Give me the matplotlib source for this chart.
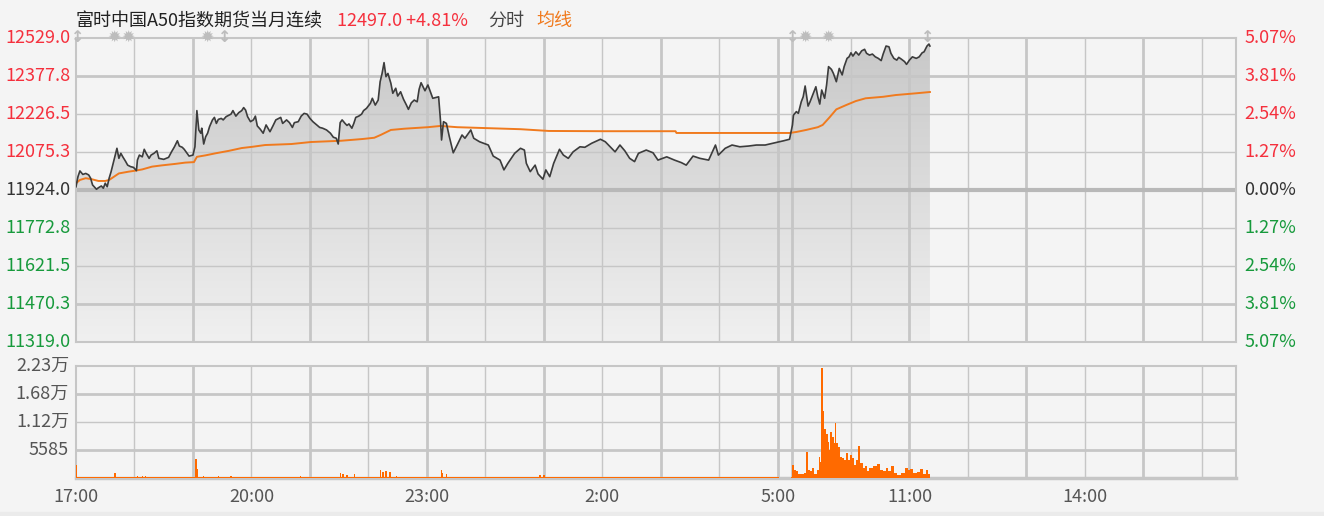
import numpy as np
import matplotlib.pyplot as plt
from matplotlib.colors import LinearSegmentedColormap
from matplotlib.patches import Rectangle

plt.rcParams['font.family'] = ['Noto Sans CJK SC', 'DejaVu Sans']

########################################
# DATA  (x = session minute: 0 = 17:00, 735 = 05:15 | 09:00, 1190 = 16:35)

title = '富时中国A50指数期货当月连续'
last_price = 12497.0
chg_pct = 4.81
prev_close = 11924.0

price_min = [0, 2, 4, 7, 10, 13, 15, 17, 21, 23,
             26, 28, 30, 32, 34, 36, 39, 42, 44, 46,
             48, 51, 53, 56, 59, 62, 63, 65, 68, 70,
             72, 75, 77, 80, 83, 85, 90, 95, 98, 101,
             104, 106, 109, 111, 114, 116, 120, 122, 124, 126,
             128, 129, 131, 133, 135, 137, 140, 142, 144, 146,
             149, 151, 154, 157, 159, 161, 164, 167, 170, 172,
             174, 176, 179, 182, 184, 186, 189, 192, 195, 199,
             202, 205, 210, 212, 216, 219, 222, 224, 228, 231,
             234, 237, 240, 243, 247, 250, 253, 257, 261, 264,
             267, 269, 271, 273, 276, 278, 280, 283, 285, 287,
             290, 293, 295, 298, 302, 304, 307, 310, 312, 314,
             316, 318, 320, 323, 325, 328, 330, 333, 336, 339,
             341, 344, 347, 350, 352, 354, 356, 358, 361, 366,
             372, 374, 375, 377, 380, 383, 387, 391, 396, 399,
             405, 408, 414, 423, 428, 435, 439, 443, 450, 456,
             460, 462, 466, 471, 474, 479, 482, 486, 490, 496,
             500, 505, 510, 517, 522, 529, 538, 543, 548, 553,
             558, 563, 568, 573, 577, 585, 592, 597, 606, 614,
             621, 626, 633, 640, 649, 656, 659, 666, 673, 681,
             690, 698, 707, 715, 726, 732, 735, 736, 739, 741,
             744, 746, 748, 751, 753, 755, 757, 759, 761, 763,
             765, 768, 770, 772, 775, 777, 780, 783, 786, 788,
             791, 793, 795, 797, 800, 803, 806, 809, 811, 814,
             817, 820, 823, 826, 828, 831, 834, 836, 839, 842,
             844, 847, 850, 852, 855, 858, 862, 865, 868, 870,
             873, 875, 876]
price = [11937, 11977, 12000, 11986, 11990, 11984, 11971, 11944, 11927, 11933,
         11940, 11931, 11951, 11937, 11971, 11997, 12043, 12090, 12050, 12070,
         12056, 12037, 12023, 12017, 12014, 12001, 12043, 12063, 12056, 12086,
         12070, 12050, 12063, 12070, 12080, 12050, 12046, 12054, 12076, 12096,
         12120, 12099, 12094, 12086, 12070, 12059, 12063, 12096, 12240, 12163,
         12150, 12170, 12107, 12136, 12150, 12176, 12203, 12213, 12189, 12205,
         12209, 12203, 12216, 12222, 12226, 12240, 12218, 12232, 12240, 12252,
         12242, 12216, 12196, 12203, 12218, 12179, 12166, 12150, 12183, 12156,
         12179, 12203, 12213, 12189, 12203, 12192, 12173, 12192, 12196, 12218,
         12229, 12226, 12209, 12196, 12183, 12173, 12170, 12163, 12150, 12134,
         12130, 12107, 12192, 12203, 12189, 12181, 12187, 12170, 12189, 12213,
         12218, 12226, 12240, 12249, 12269, 12289, 12262, 12282, 12355, 12388,
         12431, 12375, 12388, 12349, 12309, 12329, 12298, 12315, 12285, 12262,
         12245, 12271, 12282, 12275, 12325, 12351, 12335, 12319, 12342, 12289,
         12295, 12196, 12123, 12196, 12189, 12136, 12072, 12103, 12143, 12130,
         12163, 12130, 12116, 12103, 12059, 12043, 12004, 12030, 12070, 12090,
         12083, 12030, 11997, 12023, 11988, 11967, 12004, 11977, 12030, 12086,
         12063, 12050, 12076, 12096, 12094, 12110, 12126, 12116, 12096, 12076,
         12103, 12080, 12050, 12037, 12070, 12083, 12072, 12043, 12056, 12043,
         12033, 12023, 12059, 12050, 12043, 12103, 12063, 12090, 12103, 12096,
         12099, 12103, 12103, 12110, 12120, 12126, 12183, 12222, 12236, 12229,
         12275, 12295, 12338, 12258, 12275, 12295, 12315, 12335, 12295, 12266,
         12322, 12289, 12342, 12415, 12404, 12388, 12355, 12408, 12382, 12415,
         12448, 12454, 12470, 12457, 12474, 12461, 12478, 12484, 12468, 12461,
         12465, 12454, 12448, 12439, 12465, 12497, 12494, 12468, 12448, 12441,
         12452, 12444, 12435, 12424, 12441, 12454, 12448, 12454, 12470, 12474,
         12497, 12505, 12497]

avg_min = [0, 4, 10, 16, 23, 30, 34, 39, 44, 54,
           61, 68, 78, 88, 102, 112, 121, 124, 133, 143,
           157, 170, 181, 194, 221, 241, 272, 294, 306, 313,
           323, 337, 361, 374, 391, 456, 485, 542, 615, 616,
           732, 739, 749, 761, 766, 773, 780, 790, 800, 810,
           828, 841, 862, 876]
avg_price = [11951, 11964, 11971, 11967, 11960, 11960, 11964, 11977, 11990, 11997,
             12001, 12006, 12017, 12022, 12028, 12033, 12035, 12056, 12062, 12070,
             12080, 12091, 12096, 12103, 12107, 12115, 12120, 12127, 12132, 12144,
             12163, 12168, 12174, 12179, 12174, 12166, 12159, 12158, 12158, 12151,
             12151, 12155, 12163, 12174, 12183, 12213, 12245, 12262, 12278, 12289,
             12295, 12302, 12309, 12314]

# night session: thin steady volume plus a few spikes
quiet_span = [0, 721]
quiet_vol = 250
night_vol_min = [0, 40, 63, 68, 71, 123, 124, 131, 146, 159,
                 230, 271, 274, 278, 286, 312, 315, 318, 322, 329,
                 375, 376, 380, 476, 480]
night_vol = [2600, 1000, 450, 450, 450, 3800, 1700, 400, 400, 400,
             400, 1000, 700, 650, 700, 1650, 1200, 1400, 1100, 400,
             1650, 1000, 700, 500, 500]
# day session
day_vol_min = [733, 736, 738, 740, 742, 745, 748, 750, 751, 754,
               756, 759, 761, 763, 764, 765, 767, 768, 770, 772,
               773, 775, 777, 778, 779, 781, 783, 785, 787, 789,
               791, 793, 795, 797, 799, 801, 803, 806, 808, 810,
               812, 816, 820, 823, 826, 829, 832, 835, 838, 840,
               844, 848, 852, 855, 857, 861, 864, 867, 870, 873,
               876]
day_vol = [250, 2630, 1510, 1300, 850, 790, 1000, 5260, 1640, 1300,
           1970, 850, 1640, 4270, 3290, 21880, 13270, 9860, 8870, 7230,
           5580, 9200, 8210, 6900, 10970, 6900, 6240, 4270, 3940, 3610,
           4930, 3610, 4600, 3940, 2630, 3610, 6440, 2960, 1970, 2300,
           1310, 1970, 2300, 2760, 1640, 1310, 1970, 1310, 2300, 985,
           660, 985, 1970, 1640, 1770, 985, 1120, 1770, 855, 1510,
           855]

price_ticks = [12529.0, 12377.8, 12226.5, 12075.3, 11924.0,
               11772.8, 11621.5, 11470.3, 11319.0]
pct_labels = ['5.07%', '3.81%', '2.54%', '1.27%', '0.00%',
              '1.27%', '2.54%', '3.81%', '5.07%']
vol_ticks = [5585, 11170, 16755, 22340]
vol_labels = ['5585', '1.12万', '1.68万', '2.23万']
time_ticks = [0, 180, 360, 540, 720, 855, 1035]
time_labels = ['17:00', '20:00', '23:00', '2:00', '5:00', '11:00', '14:00']

event_min = [2, 39, 53, 134, 152, 735, 748, 771, 874]
event_sym = ['↕', '✹', '✹', '✹', '↕', '↕', '✹', '✹', '↕']

########################################
# STYLE

BG = '#f4f4f4'
GRID = '#c6c6c6'
RED = '#f5303d'
GREEN = '#179a3c'
DARK = '#333333'
ORANGE = '#f07a1e'
VOL = '#ff6a00'
FS = 13

W, H = 1324, 516
fig = plt.figure(figsize=(W / 100, H / 100), dpi=100, facecolor=BG)


def px_box(left, top, right, bottom):
    return [left / W, 1 - bottom / H, (right - left) / W, (bottom - top) / H]


ax = fig.add_axes(px_box(76, 38, 1236, 342))
axv = fig.add_axes(px_box(76, 366, 1236, 478))
x_end = 1190

for a in (ax, axv):
    a.set_facecolor(BG)
    a.set_xlim(0, x_end)
    a.set_xticks([])
    a.set_yticks([])
    for s in a.spines.values():
        s.set_color(GRID)
        s.set_linewidth(1.5)
    # hour lines, every second one heavier
    for m in range(60, 721, 60):
        a.axvline(m, color=GRID, lw=2.0 if (m // 60) % 2 == 0 else 1.0, zorder=1)
    for m in range(735, x_end, 60):
        a.axvline(m, color=GRID, lw=2.0 if ((m - 735) // 60) % 2 == 0 else 1.0, zorder=1)

########################################
# PRICE PANEL

lo, hi = price_ticks[-1], price_ticks[0]
for i, p in enumerate(price_ticks[1:-1], start=1):
    lw = 3.0 if i == 4 else (2.0 if i in (1, 7) else 1.0)
    col = '#b8b8b8' if i == 4 else GRID
    ax.axhline(p, color=col, lw=lw, zorder=1)

fill = ax.fill_between(price_min, price, lo, color='none', lw=0)
cmap = LinearSegmentedColormap.from_list('fade', ['#c8c8c8', '#f0f0f0'])
grad = np.linspace(0, 1, 256).reshape(-1, 1)
im = ax.imshow(grad, cmap=cmap, aspect='auto', origin='upper',
               extent=[price_min[0], price_min[-1], lo, hi], zorder=0.5)
im.set_clip_path(fill.get_paths()[0], transform=ax.transData)

ax.plot(avg_min, avg_price, color=ORANGE, lw=1.4, zorder=3)
ax.plot(price_min, price, color='#3c3c3c', lw=1.2, zorder=4)
ax.set_xlim(0, x_end)
ax.set_ylim(lo, hi)

ytr = ax.get_yaxis_transform()
for i, (p, pct) in enumerate(zip(price_ticks, pct_labels)):
    col = RED if i < 4 else (DARK if i == 4 else GREEN)
    ax.text(-0.005, p, f'{p:.1f}', transform=ytr, ha='right', va='center',
            color=col, fontsize=FS, clip_on=False)
    ax.text(1.007, p, pct, transform=ytr, ha='left', va='center',
            color=col, fontsize=FS, clip_on=False)

xtr = ax.get_xaxis_transform()
for m, sym in zip(event_min, event_sym):
    ax.text(m, 1.0, sym, transform=xtr, ha='center', va='center',
            color='#bdbdbd', fontsize=11.5, family='DejaVu Sans',
            fontweight='bold', zorder=6, clip_on=False)

########################################
# VOLUME PANEL

vmax = vol_ticks[-1]
for i, v in enumerate(vol_ticks[:-1]):
    axv.axhline(v, color=GRID, lw=2.0 if i in (0, 2) else 1.0, zorder=1)
axv.spines['bottom'].set_linewidth(2.5)

axv.fill_between(quiet_span, 0, quiet_vol, color=VOL, lw=0, zorder=3)
axv.bar(night_vol_min, night_vol, width=1.3, color=VOL, lw=0, zorder=3)
axv.fill_between(day_vol_min, day_vol, 0, step='mid', color=VOL, lw=0, zorder=3)
axv.set_ylim(0, vmax)

vtr = axv.get_yaxis_transform()
for v, lbl in zip(vol_ticks, vol_labels):
    axv.text(-0.006, v, lbl, transform=vtr, ha='right', va='center',
             color='#555555', fontsize=FS, clip_on=False)

vxtr = axv.get_xaxis_transform()
for m, lbl in zip(time_ticks, time_labels):
    axv.text(m, -0.17, lbl, transform=vxtr, ha='center', va='center',
             color='#555555', fontsize=FS, clip_on=False)

########################################
# HEADER

y_head = 1 - 21 / H
fig.text(76 / W, y_head, title, color='#222222', fontsize=13, va='center')
fig.text(337 / W, y_head, f'{last_price:.1f} +{chg_pct:.2f}%', color=RED,
         fontsize=13, va='center')
fig.text(488 / W, y_head, '分时', color='#444444', fontsize=13, va='center')
fig.text(536 / W, y_head, '均线', color=ORANGE, fontsize=13, va='center')

fig.patches.append(Rectangle((0, 0), 1, 4 / H, transform=fig.transFigure,
                             color='#ebebeb', zorder=0))

fig.savefig('out.png', dpi=100, facecolor=BG)
